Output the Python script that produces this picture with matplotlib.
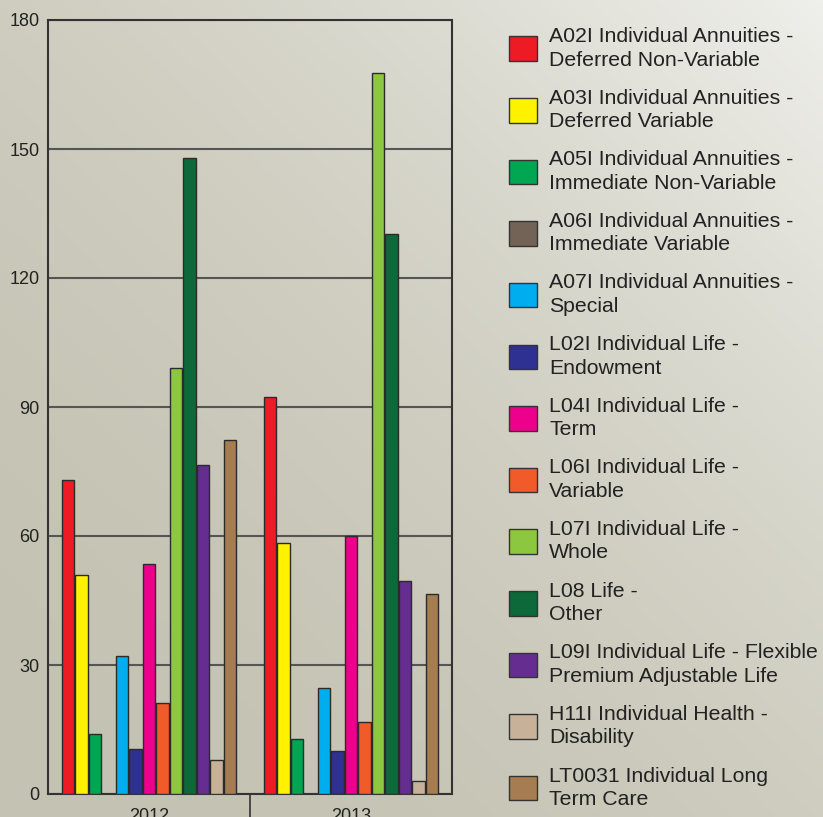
import numpy as np
import matplotlib.pyplot as plt
from matplotlib.patches import Patch
from matplotlib.colors import LinearSegmentedColormap

plt.rcParams['font.family'] = ['Liberation Sans', 'DejaVu Sans']

years = ["2012", "2013"]
lines = [
    "A02I Individual Annuities -\nDeferred Non-Variable",
    "A03I Individual Annuities -\nDeferred Variable",
    "A05I Individual Annuities -\nImmediate Non-Variable",
    "A06I Individual Annuities -\nImmediate Variable",
    "A07I Individual Annuities -\nSpecial",
    "L02I Individual Life -\nEndowment",
    "L04I Individual Life -\nTerm",
    "L06I Individual Life -\nVariable",
    "L07I Individual Life -\nWhole",
    "L08 Life -\nOther",
    "L09I Individual Life - Flexible\nPremium Adjustable Life",
    "H11I Individual Health -\nDisability",
    "LT0031 Individual Long\nTerm Care",
]
colors = ["#ED1C24", "#FFF200", "#00A651", "#736357", "#00AEEF", "#2E3192",
          "#EC008C", "#F15A29", "#8DC63F", "#0D6939", "#662D91", "#C7B299",
          "#A67C52"]
vals_2012 = [73, 51, 14, 0, 32, 10.5, 53.6, 21.1, 99, 148, 76.5, 8, 82.3]
vals_2013 = [92.4, 58.3, 12.8, 0, 24.7, 10.1, 60, 16.7, 167.6, 130.2, 49.5, 3.1, 46.4]
yticks = [0, 30, 60, 90, 120, 150, 180]

fig = plt.figure(figsize=(8.23, 8.17), dpi=100)

# background gradient, light at top right
bg = fig.add_axes([0, 0, 1, 1], zorder=-10)
bg.axis("off")
gx, gy = np.meshgrid(np.linspace(0, 1, 200), np.linspace(0, 1, 200))
t = np.clip((gx + (1 - gy)) / 2, 0, 1) ** 2.0
cmap = LinearSegmentedColormap.from_list("bg", ["#c4c2b2", "#efefeb"])
bg.imshow(t, cmap=cmap, aspect="auto", extent=[0, 1, 0, 1], origin="upper")

ax = fig.add_axes([48 / 823, 23 / 817, 404 / 823, 774 / 817])
ax.set_facecolor("none")

n = len(lines)
slot = 0.867 / n
bw = slot * 0.92
x = np.arange(len(years))
for i in range(n):
    vals = np.array([vals_2012[i], vals_2013[i]], dtype=float)
    pos = x - 0.867 / 2 + slot * (i + 0.5)
    keep = vals > 0  # empty series are not drawn at all
    ax.bar(pos[keep], vals[keep], width=bw, color=colors[i],
           edgecolor="#2b2b2b", linewidth=1, zorder=3)

ax.set_xlim(-0.5, 1.5)
ax.set_ylim(0, 180)
ax.set_yticks(yticks)
ax.yaxis.grid(True, color="#555555", linewidth=1.5, zorder=1)
ax.tick_params(axis="y", length=0, pad=6, labelsize=13, labelcolor="#222222")
ax.set_xticks([0.5])
ax.set_xticklabels([""])
ax.tick_params(axis="x", which="major", length=25, width=1.2, color="#333333")
ax.set_xticks(x, minor=True)
ax.set_xticklabels(years, minor=True)
ax.tick_params(axis="x", which="minor", length=0, pad=10, labelsize=13,
               labelcolor="#222222")
for s in ax.spines.values():
    s.set_color("#333333")
    s.set_linewidth(1.5)

handles = [Patch(facecolor=c, edgecolor="#333333", linewidth=1) for c in colors]
leg = fig.legend(handles, lines, loc="upper left",
                 bbox_to_anchor=(509 / 823, 1 - 27 / 817), frameon=False,
                 fontsize=15.3, borderpad=0, borderaxespad=0, handlelength=1.3,
                 handleheight=1.4, handletextpad=0.6, labelspacing=0.9,
                 labelcolor="#222222")
for txt in leg.get_texts():
    txt.set_linespacing(1.3)

fig.savefig("out.png", dpi=100)
